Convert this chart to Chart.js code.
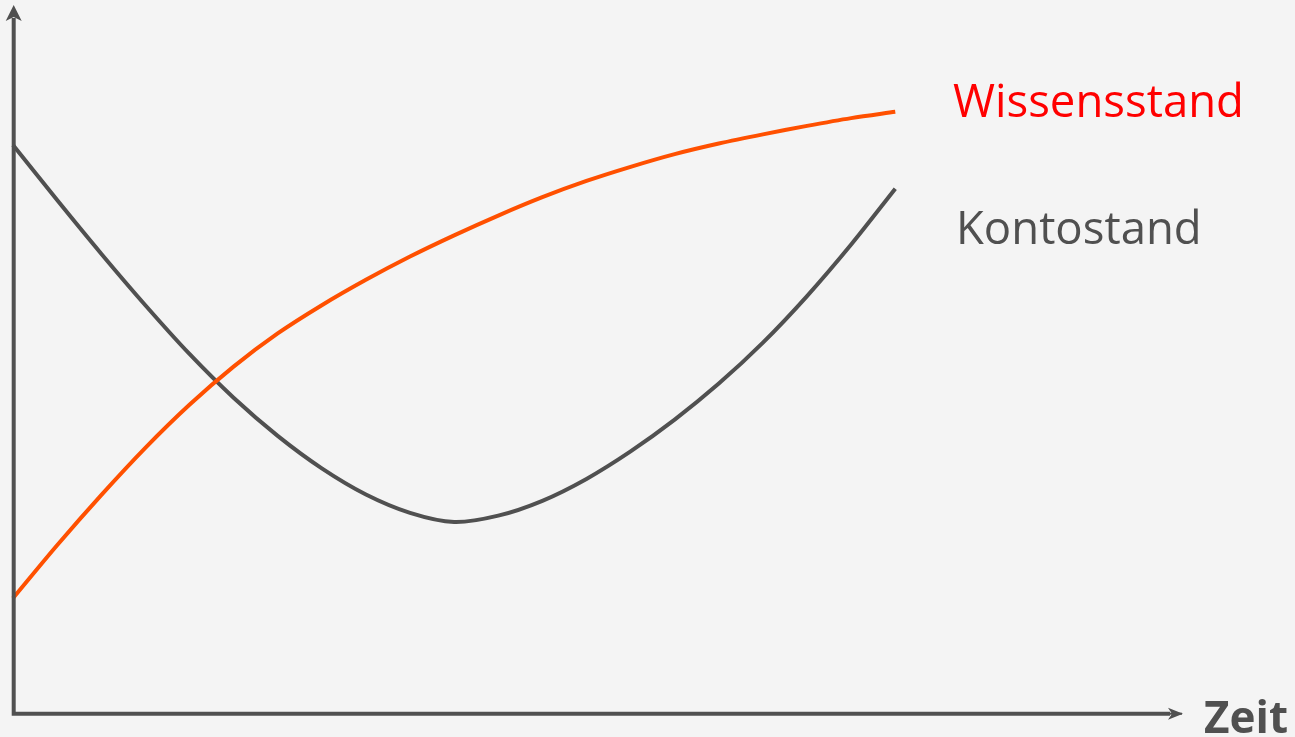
<!DOCTYPE html>
<html>
<head>
<meta charset="utf-8">
<script src="https://cdn.jsdelivr.net/npm/chart.js@4/dist/chart.umd.min.js"></script>
<style>
  html, body { margin: 0; padding: 0; background: #f4f4f4; }
  #wrap { width: 1295px; height: 737px; }
</style>
</head>
<body>
<div id="wrap"><canvas id="myChart"></canvas></div>
<script>
// Zeitachse (ohne Einheit) und die beiden Verläufe
const zeit = [0, 0.5, 1, 1.5, 2, 2.5, 3, 3.5, 4, 4.5, 5, 5.5, 6, 6.5, 7, 7.5, 8, 8.5, 9, 9.5, 10];
const wissensstand = [16.4, 23.9, 31.0, 37.7, 43.8, 49.2, 53.9, 57.9, 61.5, 64.8, 67.8,
                      70.6, 73.2, 75.5, 77.5, 79.3, 80.8, 82.1, 83.3, 84.4, 85.3];
const kontostand = [80.6, 72.8, 65.2, 57.9, 51.0, 44.8, 39.4, 34.8, 31.1, 28.5, 27.2,
                    28.1, 30.2, 33.3, 37.2, 41.7, 46.8, 52.6, 59.2, 66.5, 74.4];

const labels = ['Wissensstand', 'Kontostand'];
const colors = ['#ff5000', '#505050'];
const labelColors = ['#ff0000', '#505050'];

const axisColor = '#505050';

const toPoints = (vals) => vals.map((v, i) => ({ x: zeit[i], y: v }));

// Achsen mit Pfeilen + Beschriftungen
const deco = {
  id: 'deco',
  beforeDraw(chart) {
    const c = chart.ctx;
    c.save();
    c.fillStyle = '#f4f4f4';
    c.fillRect(0, 0, chart.width, chart.height);
    c.restore();
  },
  afterDraw(chart) {
    const c = chart.ctx;
    const a = chart.chartArea;
    const x0 = a.left + 0.7;
    const y0 = a.bottom - 0.3;
    c.save();
    c.strokeStyle = axisColor;
    c.fillStyle = axisColor;
    c.lineWidth = 4;
    c.beginPath();
    c.moveTo(x0, y0 + 2);
    c.lineTo(x0, a.top + 10);
    c.moveTo(x0 - 2, y0);
    c.lineTo(a.right - 12, y0);
    c.stroke();
    // Pfeil oben
    c.beginPath();
    c.moveTo(x0, a.top - 3);
    c.lineTo(x0 - 8, a.top + 13);
    c.lineTo(x0, a.top + 9);
    c.lineTo(x0 + 8, a.top + 13);
    c.closePath();
    c.fill();
    // Pfeil rechts
    c.lineWidth = 2;
    c.beginPath();
    c.moveTo(a.right - 14, y0);
    c.lineTo(a.right, y0);
    c.stroke();
    c.beginPath();
    c.moveTo(a.right + 1, y0);
    c.lineTo(a.right - 14, y0 - 6);
    c.lineTo(a.right - 10, y0);
    c.lineTo(a.right - 14, y0 + 6);
    c.closePath();
    c.fill();

    c.textBaseline = 'alphabetic';
    c.textAlign = 'left';
    c.font = '45.5px "Open Sans"';
    c.fillStyle = labelColors[0];
    c.fillText(labels[0], 953, 117);
    c.fillStyle = labelColors[1];
    c.fillText(labels[1], 956, 244);
    c.font = 'bold 44px "Open Sans"';
    c.fillStyle = axisColor;
    c.fillText('Zeit', 1204, 733);
    c.restore();
  }
};

new Chart(document.getElementById('myChart'), {
  type: 'line',
  data: {
    datasets: [
      {
        label: labels[0],
        data: toPoints(wissensstand),
        borderColor: colors[0],
        borderWidth: 4,
        pointRadius: 0,
        tension: 0.3,
        clip: false,
      },
      {
        label: labels[1],
        data: toPoints(kontostand),
        borderColor: colors[1],
        borderWidth: 4,
        pointRadius: 0,
        tension: 0.3,
        clip: false,
      }
    ]
  },
  options: {
    responsive: true,
    maintainAspectRatio: false,
    animation: false,
    layout: { padding: { left: 13, right: 113, top: 8, bottom: 23 } },
    plugins: {
      legend: { display: false },
      tooltip: { enabled: false },
    },
    scales: {
      x: { type: 'linear', min: 0, max: 13.25, display: false },
      y: { min: 0, max: 100, display: false },
    },
  },
  plugins: [deco],
});
</script>
</body>
</html>
